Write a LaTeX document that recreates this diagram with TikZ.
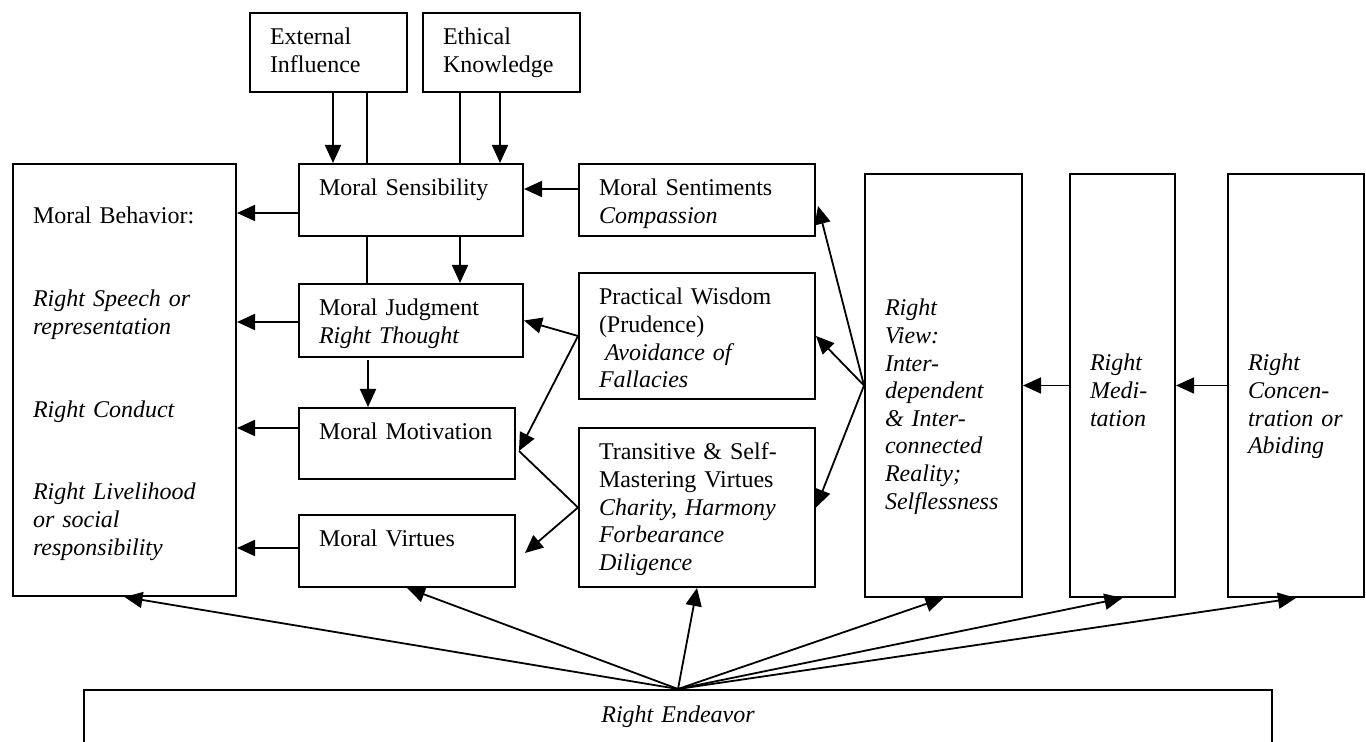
\documentclass[tikz,border=0pt]{standalone}
\usepackage{fontspec}
\setmainfont{Liberation Serif}
\usetikzlibrary{arrows.meta,calc}

\begin{document}
\begin{tikzpicture}[x=0.5pt, y=-0.5pt, >={Triangle[length=9pt,width=8pt]},
	box/.style={draw, line width=1pt, anchor=north west, align=left,
		inner xsep=10pt, inner ysep=0pt, text height=16pt,
		font=\fontsize{12pt}{13.8pt}\selectfont},
	tb/.style 2 args={box, text width=#1, text depth=#2},
	it/.style={font=\fontsize{12pt}{13.8pt}\selectfont\itshape},
	link/.style={line width=0.9pt}
]
\useasboundingbox (0,0) rectangle (1366,742);

% sources
\node[tb={58.5pt}{23.5pt}] (ext) at (249,12) {External\\Influence};
\node[tb={58.5pt}{23.5pt}] (eth) at (422,12) {Ethical\\Knowledge};

% moral components
\node[tb={92pt}{20pt}] (sens) at (298,163) {Moral Sensibility};
\node[tb={92pt}{20.5pt}] (judg) at (298,283) {Moral Judgment\\\textit{Right Thought}};
\node[tb={88pt}{19.5pt}] (motiv) at (298,407) {Moral Motivation};
\node[tb={88pt}{20pt}] (virt) at (298,514) {Moral Virtues};

\node[tb={91.5pt}{186pt}, text height=30pt] (behav) at (12,163) {Moral Behavior:\\[27.6pt]
	\textit{Right Speech or}\\\textit{representation}\\[27.6pt]
	\textit{Right Conduct}\\[27.6pt]
	\textit{Right Livelihood}\\\textit{or social}\\\textit{responsibility}};

\node[tb={98pt}{20pt}] (sent) at (578,163) {Moral Sentiments\\\textit{Compassion}};
\node[tb={98pt}{47pt}] (wisd) at (578,272) {Practical Wisdom\\(Prudence)\\
	\textit{\hspace*{.25em}Avoidance of}\\\textit{Fallacies}};
\node[tb={98pt}{63.5pt}] (trans) at (578,427) {Transitive \& Self-\\Mastering Virtues\\
	\textit{Charity, Harmony}\\\textit{Forbearance}\\\textit{Diligence}};

% right path columns
\node[tb={58.5pt}{140.5pt}, text height=71pt, it] (view) at (864,173) {Right\\View:\\Inter-\\dependent\\\& Inter-\\connected\\Reality;\\Selflessness};
\node[tb={32.5pt}{113pt}, text height=98.5pt, it] (medit) at (1069,173) {Right\\Medi-\\tation};
\node[tb={48pt}{113pt}, text height=98.5pt, it] (conc) at (1227,173) {Right\\Concen-\\tration or\\Abiding};

\node[box, align=center, text width=574pt, text height=16.5pt, text depth=43.5pt, it] (endv) at (83,689) {Right Endeavor};

% vertical links
\draw[link,->] ($(ext.south)+(4.5,0)$) coordinate (e1) -- (e1 |- sens.north);
\draw[link] ($(ext.south)+(38.5,0)$) coordinate (e2) -- (e2 |- sens.north);
\draw[link] ($(eth.south)+(-41.5,0)$) coordinate (e3) -- (e3 |- sens.north);
\draw[link,->] ($(eth.south)+(-1.5,0)$) coordinate (e4) -- (e4 |- sens.north);
\draw[link] ($(sens.south)+(-44,0)$) coordinate (s1) -- (s1 |- judg.north);
\draw[link,->] ($(sens.south)+(49,0)$) coordinate (s2) -- (s2 |- judg.north);
\draw[link,->] ($(judg.south)+(-43,2)$) coordinate (j1) -- (j1 |- motiv.north);

% into behavior
\draw[link,->] ($(sens.west)+(0,13)$) coordinate (b1) -- (b1 -| behav.east);
\draw[link,->] ($(judg.west)+(0,1.5)$) coordinate (b2) -- (b2 -| behav.east);
\draw[link,->] ($(motiv.west)+(0,-15.5)$) coordinate (b3) -- (b3 -| behav.east);
\draw[link,->] ($(virt.west)+(0,-3)$) coordinate (b4) -- (b4 -| behav.east);
\draw[link,->] ($(sent.west)+(0,-11)$) coordinate (m1) -- (m1 -| sens.east);

% diagonals
\draw[link,->] (wisd.west) -- (judg.east);
\draw[link,->] (wisd.west) -- ($(motiv.east)+(3,7.5)$);
\draw[link] (trans.west) -- ($(motiv.east)+(3,7.5)$);
\draw[link,->] (trans.west) -- ($(virt.east)+(9,2)$);
\draw[link,->] (view.west) -- ($(sent.east)+(2,6)$);
\draw[link,->] (view.west) -- (wisd.east);
\draw[link,->] (view.west) -- (trans.east);
\draw[link,->] (medit.west) -- (view.east);
\draw[link,->] (conc.west) -- (medit.east);

% fan from endeavor
\foreach \t in {behav,virt,trans,view,medit,conc}
	\draw[link,->] (endv.north) -- (\t.south);
\end{tikzpicture}
\end{document}
